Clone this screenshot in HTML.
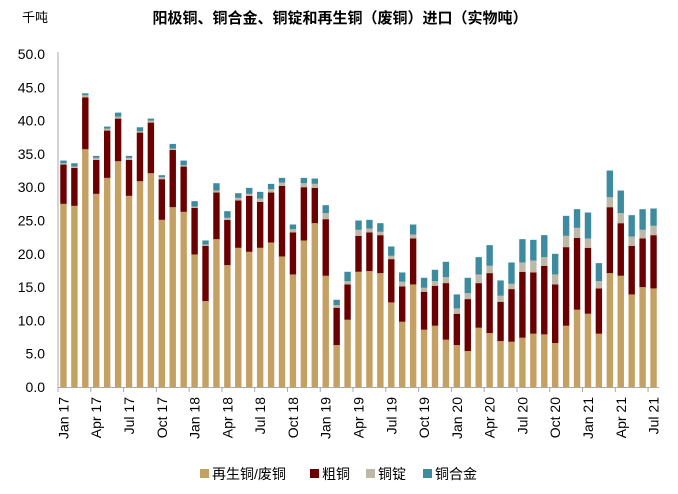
<!DOCTYPE html>
<html><head><meta charset="utf-8"><style>
body{margin:0;background:#fff;}
svg{display:block;font-family:"Liberation Sans","Noto Sans CJK SC",sans-serif;}
</style></head><body>
<svg id="chart" width="678" height="494">
<text x="22" y="22" font-size="13" fill="#000">千吨</text>
<text x="340" y="23" font-size="15" font-weight="bold" text-anchor="middle" fill="#000">阳极铜、铜合金、铜锭和再生铜（废铜）进口（实物吨）</text>
<g id="yaxis"></g>
<g id="bars"></g>
<g id="xaxis"></g>
<g font-size="14">
<g><rect x="200" y="469" width="9" height="9" fill="#C4A062"/><text x="212" y="479">再生铜/废铜</text></g>
<g><rect x="310" y="469" width="9" height="9" fill="#6B0000"/><text x="322" y="479">粗铜</text></g>
<g><rect x="366" y="469" width="9" height="9" fill="#BDB8A8"/><text x="378" y="479">铜锭</text></g>
<g><rect x="423" y="469" width="9" height="9" fill="#3E8BA0"/><text x="435" y="479">铜合金</text></g>
</g>
</svg>
<script>
const months=["Jan","Feb","Mar","Apr","May","Jun","Jul","Aug","Sep","Oct","Nov","Dec"];
const categories=[];for(let y=17;y<=21;y++)for(let m=0;m<12;m++){if(y===21&&m>6)break;categories.push(months[m]+" "+y);}
const recycled=[27.5,27.2,35.7,29.0,31.4,33.9,28.7,30.9,32.1,25.1,27.0,26.3,19.9,12.9,22.2,18.3,20.9,20.3,20.9,21.7,19.6,16.9,22.0,24.6,16.7,6.3,10.1,17.3,17.4,17.1,12.7,9.8,15.4,8.6,9.2,7.1,6.3,5.4,8.9,8.1,6.9,6.8,7.4,8.0,7.9,6.6,9.2,11.6,11.0,8.0,17.1,16.7,13.9,15.0,14.8];
const crudeTop=[33.4,32.9,43.5,34.1,38.5,40.3,34.1,38.2,39.7,31.2,35.6,33.1,26.9,21.2,29.2,25.1,28.0,28.7,27.8,29.2,30.2,23.2,30.0,29.9,25.2,11.9,15.4,22.7,23.2,22.8,19.2,15.1,22.3,14.3,15.2,15.6,11.0,13.2,15.6,17.1,12.8,14.7,17.3,17.2,18.2,15.4,21.0,22.4,20.9,14.8,27.0,24.6,21.2,22.3,22.8];
const ingotTop=[33.6,33.1,43.8,34.4,38.8,40.6,34.4,38.4,40.0,31.5,35.8,33.3,27.1,21.4,29.5,25.4,28.4,29.0,28.3,29.7,30.7,23.7,30.6,30.5,26.1,12.3,15.9,23.6,23.8,23.3,19.7,15.8,22.9,14.9,15.9,16.5,11.8,14.1,16.9,18.2,13.7,15.5,18.7,19.0,19.5,16.9,22.7,23.9,22.3,15.9,28.5,26.1,22.6,23.6,24.2];
const totals=[34.0,33.6,44.1,34.7,39.1,41.2,34.7,39.0,40.3,31.8,36.5,34.0,27.9,22.0,30.6,26.4,29.1,29.9,29.3,30.5,31.4,24.4,31.4,31.3,27.3,13.1,17.3,25.0,25.1,24.6,21.1,17.2,24.4,16.4,17.6,18.8,13.9,16.4,19.5,21.3,16.0,18.7,22.2,22.1,22.8,20.0,25.7,26.7,26.2,18.6,32.5,29.5,25.8,26.7,26.8];
const yTicks=[0,5,10,15,20,25,30,35,40,45,50];
const NS="http://www.w3.org/2000/svg";
const x0=58,x1=659,yBase=387,yTop=54;
const bw=(x1-x0)/categories.length;
const yS=v=>yBase-(v/50)*(yBase-yTop);
const xC=i=>x0+(i+0.5)*bw;
function mk(t,a,p){const e=document.createElementNS(NS,t);for(const k in a)e.setAttribute(k,a[k]);p.appendChild(e);return e;}
const ya=document.getElementById("yaxis"),bars=document.getElementById("bars"),xa=document.getElementById("xaxis");
yTicks.forEach(v=>{const t=mk("text",{x:45,y:yS(v)+5,"font-size":14,"text-anchor":"end",fill:"#000"},ya);t.textContent=v.toFixed(1);

});
mk("line",{x1:x0,y1:yTop-2,x2:x0,y2:yBase,stroke:"#aaa","stroke-width":1},ya);
const colors=["#C4A062","#6B0000","#BDB8A8","#3E8BA0"];
const names=["recycled","crude","ingot","alloy"];
categories.forEach((c,i)=>{
 const levels=[0,recycled[i],crudeTop[i],ingotTop[i],totals[i]];
 for(let s=0;s<4;s++){
  const r=mk("rect",{x:xC(i)-3.2,y:yS(levels[s+1]),width:6.4,height:Math.max(0,yS(levels[s])-yS(levels[s+1])),fill:colors[s]},bars);
  
  
 }
});
mk("line",{x1:x0,y1:yBase+0.5,x2:x1,y2:yBase+0.5,stroke:"#aaa","stroke-width":1},xa);
categories.forEach((c,i)=>{
 if(i%3===0){
  mk("line",{x1:x0+i*bw,y1:yBase,x2:x0+i*bw,y2:yBase+5,stroke:"#aaa"},xa);
  const t=mk("text",{x:0,y:0,"font-size":14,"text-anchor":"end",fill:"#000",transform:`translate(${xC(i)+5},${yBase+10}) rotate(-90)`},xa);
  t.textContent=c;
  
  
 }
});
</script>
</body></html>
